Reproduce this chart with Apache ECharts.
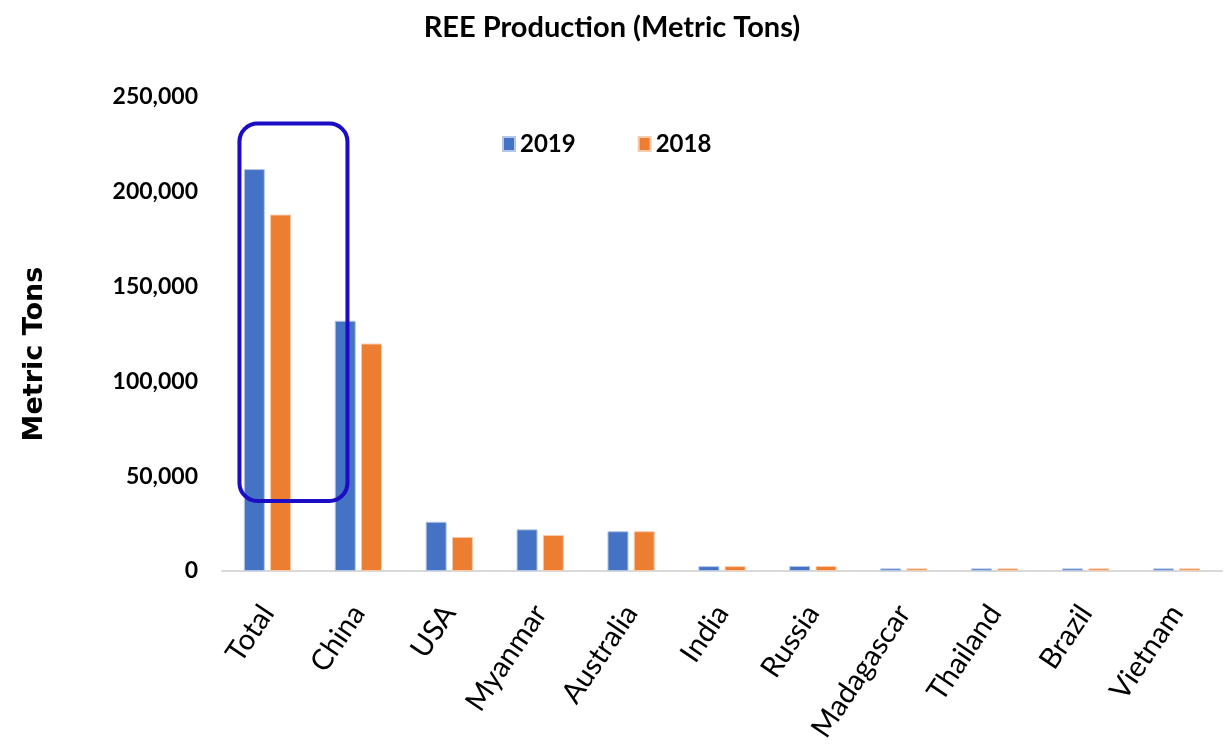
<!DOCTYPE html>
<html>
<head>
<meta charset="utf-8">
<script src="https://cdn.jsdelivr.net/npm/echarts@6/dist/echarts.min.js"></script>
<style>
html,body{margin:0;padding:0;background:#fff;}
#chart{width:1224px;height:745px;}
</style>
</head>
<body>
<div id="chart"></div>
<script>
const categories = ['Total','China','USA','Myanmar','Australia','India','Russia','Madagascar','Thailand','Brazil','Vietnam'];
const values2019 = [212000, 132000, 26000, 22000, 21000, 2600, 2700, 1400, 1400, 1400, 1400];
const values2018 = [188000, 120000, 18000, 19000, 21000, 2600, 2700, 1400, 1400, 1400, 1400];
const seriesNames = ['2019', '2018'];
const yTicks = [0, 50000, 100000, 150000, 200000, 250000];

const font = "Lato, 'Liberation Sans', sans-serif";
const chart = echarts.init(document.getElementById('chart'));
const option = {
  animation: false,
  backgroundColor: '#fff',
  title: {
    text: 'REE Production (Metric Tons)',
    left: 'center',
    top: 8,
    textStyle: {fontFamily: font, fontWeight: 'bold', fontSize: 29, color: '#000'}
  },
  legend: {
    data: seriesNames,
    left: 497,
    top: 127,
    itemWidth: 12,
    itemHeight: 14,
    itemGap: 62,
    icon: 'rect',
    textStyle: {fontFamily: font, fontWeight: 'bold', fontSize: 24, color: '#000'}
  },
  grid: {left: 222, right: 2, top: 97, bottom: 173},
  xAxis: {
    type: 'category',
    data: categories,
    axisLine: {lineStyle: {color: '#d9d9d9', width: 2}},
    axisTick: {show: false},
    axisLabel: {
      rotate: 56,
      margin: 37,
      fontFamily: font,
      fontSize: 29,
      color: '#000',
      interval: 0
    }
  },
  yAxis: {
    type: 'value',
    min: yTicks[0],
    max: yTicks[yTicks.length - 1],
    interval: yTicks[1] - yTicks[0],
    name: 'Metric Tons',
    nameLocation: 'middle',
    nameRotate: 90,
    nameGap: 174,
    nameTextStyle: {fontFamily: "'DejaVu Sans', sans-serif", fontWeight: 'bold', fontSize: 27, color: '#000', padding: [0, 40, 0, 0]},
    axisLine: {show: false},
    axisTick: {show: false},
    splitLine: {show: false},
    axisLabel: {
      margin: 24,
      fontFamily: font,
      fontWeight: 'bold',
      fontSize: 23,
      color: '#000',
      formatter: v => v.toLocaleString('en-US')
    }
  },
  series: [
    {name: seriesNames[0], type: 'bar', data: values2019, barWidth: 21, barGap: '25%',
     itemStyle: {color: '#4472C4', borderColor: '#b4c7e7', borderWidth: 1}},
    {name: seriesNames[1], type: 'bar', data: values2018, barWidth: 21, barGap: '25%',
     itemStyle: {color: '#ED7D31', borderColor: '#f8cbad', borderWidth: 1}}
  ]
};
chart.setOption(option);

// Highlight box around the "Total" category
const topPt = chart.convertToPixel({gridIndex: 0}, [categories[0], 236000]);
const botPt = chart.convertToPixel({gridIndex: 0}, [categories[0], 37000]);
chart.setOption({
  graphic: [{
    type: 'rect',
    shape: {x: topPt[0] - 28, y: topPt[1], width: 108, height: botPt[1] - topPt[1], r: 18},
    style: {fill: 'none', stroke: '#1a0dc4', lineWidth: 4},
    z: 100
  }]
});
</script>
</body>
</html>
